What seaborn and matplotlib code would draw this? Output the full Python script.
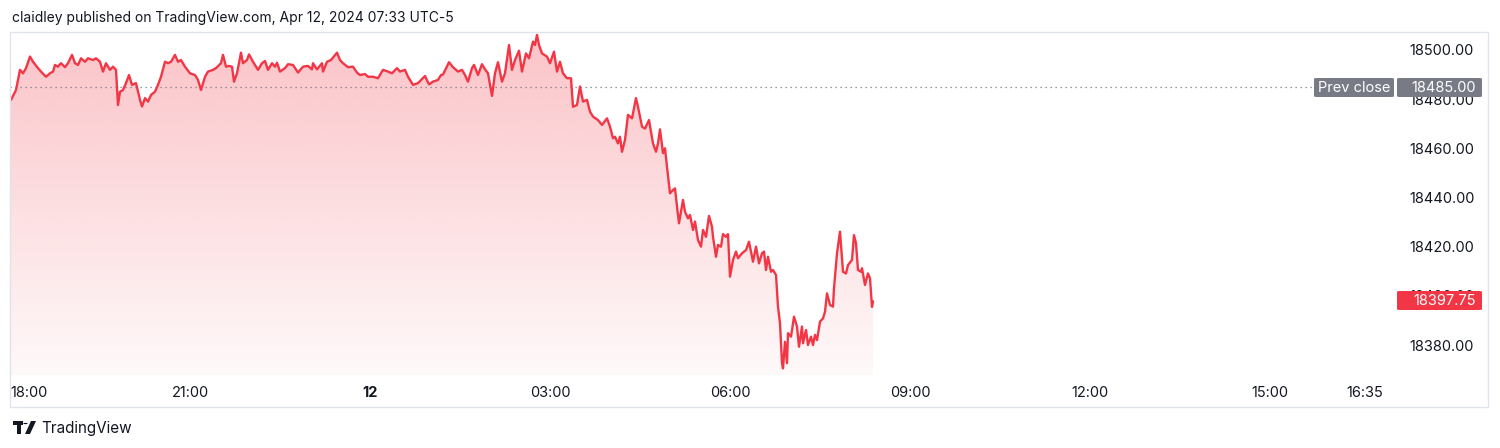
import numpy as np
import pandas as pd
import seaborn as sns
import matplotlib.pyplot as plt
import matplotlib.dates as mdates
from matplotlib.patches import Rectangle, Polygon, Circle, FancyBboxPatch

# minutes after 2024-04-11 18:00 and last price
minutes = [1, 6, 10, 13, 16, 20, 23, 28, 31, 36, 40, 43, 45, 48, 51, 55, 58, 62, 65, 68,
           71, 75, 78, 83, 86, 90, 93, 96, 100, 103, 106, 108, 110, 113, 116, 119, 122, 126, 130, 132,
           135, 138, 141, 145, 148, 151, 155, 158, 161, 165, 168, 171, 175, 180, 185, 188, 191, 195, 198, 203,
           206, 211, 213, 216, 219, 222, 224, 227, 231, 233, 237, 239, 243, 248, 252, 255, 258, 262, 265, 267,
           270, 275, 278, 283, 288, 293, 298, 302, 303, 307, 312, 313, 317, 321, 327, 330, 333, 338, 343, 347,
           350, 355, 358, 363, 368, 373, 378, 382, 387, 390, 395, 398, 403, 408, 415, 419, 423, 428, 431, 433,
           439, 443, 448, 452, 455, 458, 462, 464, 468, 472, 475, 478, 482, 485, 488, 492, 495, 499, 502, 505,
           509, 512, 516, 519, 523, 525, 527, 529, 532, 537, 540, 544, 547, 550, 553, 557, 561, 563, 567, 570,
           573, 577, 580, 583, 588, 592, 597, 600, 603, 605, 608, 610, 612, 615, 618, 622, 626, 628, 632, 635,
           639, 643, 646, 648, 650, 653, 655, 657, 660, 663, 665, 667, 669, 673, 675, 678, 680, 683, 685, 688,
           691, 693, 696, 699, 702, 703, 706, 708, 711, 713, 716, 718, 720, 723, 726, 728, 732, 736, 739, 743,
           746, 749, 752, 754, 756, 758, 761, 763, 766, 768, 770, 772, 773, 775, 777, 778, 781, 784, 787, 789,
           792, 793, 796, 798, 801, 803, 805, 807, 810, 813, 815, 817, 820, 823, 824, 827, 830, 833, 836, 838,
           842, 844, 846, 848, 851, 852, 855, 858, 860, 862, 863]
prices = [18479.7, 18483.7, 18491.9, 18490.5, 18492.6, 18497.3, 18495.2, 18492.6, 18491.2, 18489.1,
          18490.5, 18491.2, 18493.9, 18493.2, 18494.6, 18493.0, 18494.6, 18498.0, 18494.6, 18493.9,
          18496.6, 18495.2, 18496.6, 18495.9, 18496.6, 18495.2, 18491.2, 18494.6, 18491.9, 18493.2,
          18491.9, 18477.6, 18483.0, 18483.7, 18486.5, 18489.8, 18485.8, 18486.5, 18479.7, 18477.0,
          18480.4, 18479.0, 18481.7, 18483.0, 18485.8, 18489.1, 18495.2, 18494.6, 18495.2, 18498.0,
          18495.2, 18495.9, 18493.2, 18490.5, 18489.8, 18487.8, 18483.7, 18489.1, 18491.2, 18491.9,
          18492.6, 18494.6, 18498.0, 18493.2, 18493.5, 18493.2, 18487.1, 18490.5, 18498.9, 18494.6,
          18495.9, 18498.2, 18495.2, 18491.9, 18494.6, 18495.5, 18491.9, 18494.6, 18493.2, 18494.8,
          18491.2, 18492.6, 18494.2, 18493.9, 18490.8, 18493.2, 18493.5, 18492.1, 18494.6, 18492.1,
          18494.6, 18491.2, 18495.2, 18495.9, 18498.9, 18495.9, 18494.6, 18493.0, 18493.2, 18490.8,
          18489.8, 18490.2, 18489.1, 18489.1, 18488.5, 18491.9, 18491.2, 18490.5, 18492.6, 18491.2,
          18491.9, 18489.1, 18485.8, 18486.5, 18489.4, 18486.0, 18487.1, 18487.8, 18489.8, 18490.0,
          18495.0, 18493.0, 18491.2, 18491.9, 18489.8, 18487.1, 18492.6, 18493.9, 18489.8, 18494.2,
          18492.1, 18490.5, 18481.3, 18490.5, 18495.0, 18487.1, 18490.5, 18502.0, 18491.9, 18495.9,
          18499.7, 18491.2, 18498.6, 18496.6, 18503.4, 18502.0, 18506.1, 18502.0, 18498.6, 18497.3,
          18494.6, 18499.3, 18491.2, 18495.2, 18490.5, 18488.5, 18488.5, 18476.9, 18477.6, 18485.1,
          18479.0, 18479.7, 18474.9, 18472.9, 18471.5, 18469.5, 18472.2, 18468.8, 18464.1, 18464.7,
          18462.0, 18464.7, 18458.6, 18463.4, 18473.6, 18472.2, 18480.4, 18476.9, 18468.8, 18468.0,
          18471.5, 18462.0, 18458.6, 18462.0, 18467.7, 18458.0, 18460.0, 18452.5, 18441.7, 18443.0,
          18443.7, 18436.3, 18429.5, 18439.0, 18434.2, 18431.5, 18432.9, 18426.8, 18430.2, 18422.7,
          18420.0, 18426.8, 18424.0, 18432.5, 18428.1, 18424.0, 18415.9, 18420.7, 18420.0, 18425.1,
          18424.0, 18425.1, 18407.8, 18414.6, 18418.0, 18415.3, 18417.3, 18418.6, 18422.0, 18413.9,
          18420.0, 18413.2, 18417.3, 18418.0, 18410.5, 18415.9, 18409.8, 18410.5, 18408.5, 18395.6,
          18388.8, 18372.6, 18370.5, 18381.3, 18372.6, 18384.8, 18383.4, 18391.5, 18387.5, 18379.3,
          18387.5, 18380.7, 18386.1, 18380.0, 18383.4, 18380.0, 18384.1, 18382.0, 18389.5, 18390.8,
          18393.5, 18401.0, 18396.3, 18395.6, 18403.1, 18417.3, 18426.1, 18409.8, 18409.1, 18412.5,
          18414.6, 18424.7, 18421.4, 18410.5, 18409.8, 18411.2, 18404.4, 18409.1, 18407.1, 18395.5,
          18397.75]

prev_close = 18485.00
last_price = 18397.75
price_ticks = [18380, 18400, 18420, 18440, 18460, 18480, 18500]
time_ticks = ["2024-04-11 18:00", "2024-04-11 21:00", "2024-04-12 00:00", "2024-04-12 03:00",
              "2024-04-12 06:00", "2024-04-12 09:00", "2024-04-12 12:00", "2024-04-12 15:00",
              "2024-04-12 16:35"]
time_labels = ["18:00", "21:00", "12", "03:00", "06:00", "09:00", "12:00", "15:00", "16:35"]

start = pd.Timestamp("2024-04-11 18:00")
df = pd.DataFrame({"time": start + pd.to_timedelta(minutes, unit="m"), "price": prices})

RED = "#f23645"
GREY = "#787b86"
TXT = "#131722"
W, H = 1500, 448

sns.set_theme(style="white")
plt.rcParams["font.family"] = ["Inter", "DejaVu Sans"]

fig = plt.figure(figsize=(15, 4.48), dpi=100)


def px(x, y):
    return (x / W, 1 - y / H)


ax = fig.add_axes([10 / W, (H - 375) / H, 1385 / W, 343 / H])
ax.set_facecolor("none")

xmin = start
xmax = start + pd.Timedelta(minutes=1385)
ymin, ymax = 18367.8, 18507.3

sns.lineplot(data=df, x="time", y="price", ax=ax, color=RED, lw=1.7, zorder=4)

# gradient area under the line
poly = ax.fill_between(df["time"], df["price"], ymin, color="none", lw=0)
grad = np.zeros((256, 1, 4))
grad[..., 0], grad[..., 1], grad[..., 2] = 242 / 255, 54 / 255, 69 / 255
grad[..., 3] = np.linspace(0.30, 0.03, 256)[:, None]
im = ax.imshow(grad, extent=[mdates.date2num(xmin), mdates.date2num(xmax), ymin, ymax],
               aspect="auto", origin="upper", zorder=2)
im.set_clip_path(poly.get_paths()[0], transform=ax.transData)

# previous close dotted line
ax.plot([xmin, start + pd.Timedelta(minutes=1303)], [prev_close, prev_close],
        color=GREY, lw=0.9, ls=(0, (1, 3)), zorder=3)

ax.set_xlim(xmin, xmax)
ax.set_ylim(ymin, ymax)
for s in ax.spines.values():
    s.set_visible(False)

ax.yaxis.tick_right()
ax.set_yticks(price_ticks)
ax.set_yticklabels([f"{p:.2f}" for p in price_ticks])
ax.tick_params(axis="y", length=0, pad=10, labelsize=10.5, labelcolor=TXT)

ax.set_xticks(pd.to_datetime(time_ticks))
ax.set_xticklabels(time_labels)
ax.tick_params(axis="x", length=0, pad=8, labelsize=10.5, labelcolor=TXT)
xl = ax.get_xticklabels()
xl[0].set_horizontalalignment("left")
xl[2].set_fontweight("bold")
ax.set_xlabel("")
ax.set_ylabel("")

# outer frame
fig.patches.append(Rectangle(px(10, 407), 1478 / W, 375 / H, transform=fig.transFigure,
                             fill=False, edgecolor="#e0e3eb", lw=1))

# price labels on the scale
fig.patches.append(FancyBboxPatch(px(1314, 97), 80 / W, 19 / H, boxstyle="round,pad=0,rounding_size=0.002",
                                  transform=fig.transFigure, facecolor=GREY, edgecolor="none"))
fig.patches.append(FancyBboxPatch(px(1397, 97), 85 / W, 19 / H, boxstyle="round,pad=0,rounding_size=0.002",
                                  transform=fig.transFigure, facecolor=GREY, edgecolor="none"))
fig.text(*px(1354, 88), "Prev close", color="white", fontsize=10.5, ha="center", va="center")
fig.text(*px(1476, 88), f"{prev_close:.2f}", color="white", fontsize=10.5, ha="right", va="center")

fig.patches.append(FancyBboxPatch(px(1397, 310), 85 / W, 19 / H, boxstyle="round,pad=0,rounding_size=0.002",
                                  transform=fig.transFigure, facecolor=RED, edgecolor="none"))
fig.text(*px(1476, 301), f"{last_price:.2f}", color="white", fontsize=10.5, ha="right", va="center")

# header
fig.text(*px(12, 18), "claidley published on TradingView.com, Apr 12, 2024 07:33 UTC-5",
         color=TXT, fontsize=10, ha="left", va="center")

# footer logo + name
fig.patches.append(Polygon([px(12.5, 421), px(22.5, 421), px(22.5, 425), px(20.5, 425),
                            px(20.5, 434), px(16.5, 434), px(16.5, 425), px(12.5, 425)],
                           closed=True, transform=fig.transFigure, facecolor=TXT, edgecolor="none"))
fig.patches.append(Circle(px(25.5, 423.5), 2.2 / W, transform=fig.transFigure, facecolor=TXT, edgecolor="none"))
fig.patches.append(Polygon([px(31, 421), px(36, 421), px(30, 434), px(25, 434)],
                           closed=True, transform=fig.transFigure, facecolor=TXT, edgecolor="none"))
fig.text(*px(41, 428), "TradingView", color=TXT, fontsize=11, ha="left", va="center")

plt.savefig("out.png", dpi=100)
